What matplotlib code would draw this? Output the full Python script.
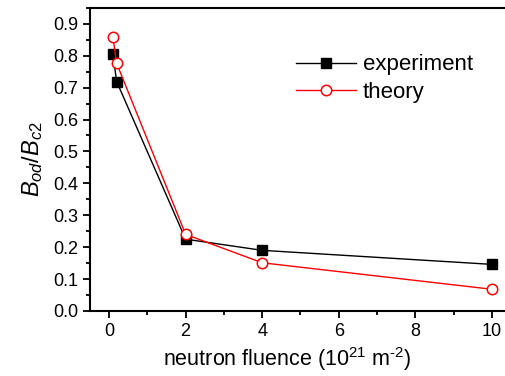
import matplotlib
matplotlib.use("Agg")
import matplotlib.pyplot as plt
from matplotlib.ticker import MultipleLocator

plt.rcParams['font.family'] = ['Liberation Sans', 'DejaVu Sans']
plt.rcParams['mathtext.fontset'] = 'custom'
plt.rcParams['mathtext.rm'] = 'Liberation Sans'
plt.rcParams['mathtext.it'] = 'Liberation Sans:italic'

# data
fluence = [0.1, 0.2, 2, 4, 10]
experiment = [0.805, 0.719, 0.225, 0.190, 0.146]
theory = [0.858, 0.776, 0.240, 0.151, 0.068]

fig = plt.figure(figsize=(5.05, 3.76), dpi=100)
ax = fig.add_axes([0.178, 0.173, 0.834, 0.806])

ax.plot(fluence, experiment, color='black', lw=1, marker='s', ms=7,
        mfc='black', mec='black', label='experiment')
ax.plot(fluence, theory, color='red', lw=1, marker='o', ms=7.5,
        mfc='white', mec='red', mew=1.1, label='theory')

ax.set_xlim(-0.5, 10.5)
ax.set_ylim(0.0, 0.95)
ax.xaxis.set_major_locator(MultipleLocator(2))
ax.xaxis.set_minor_locator(MultipleLocator(1))
ax.yaxis.set_major_locator(MultipleLocator(0.1))
ax.yaxis.set_minor_locator(MultipleLocator(0.05))
ax.tick_params(which='both', direction='out', width=1.3, labelsize=13)
ax.tick_params(which='major', length=5)
ax.tick_params(which='minor', length=3)
for s in ['left', 'bottom', 'top']:
    ax.spines[s].set_linewidth(1.5)
ax.spines['right'].set_visible(False)

ax.set_xlabel(r'neutron fluence (10$^{21}$ m$^{\text{-2}}$)', fontsize=15.5)
ax.xaxis.set_label_coords(0.468, -0.113)
ax.set_ylabel('$B_{od}/B_{c2}$', fontsize=17, labelpad=6)

ax.legend(loc='upper left', bbox_to_anchor=(0.565, 0.885), bbox_transform=fig.transFigure,
          frameon=False, fontsize=16, handlelength=2.7, handletextpad=0.3,
          labelspacing=0.3, borderpad=0)

fig.savefig('out.png', dpi=100)
